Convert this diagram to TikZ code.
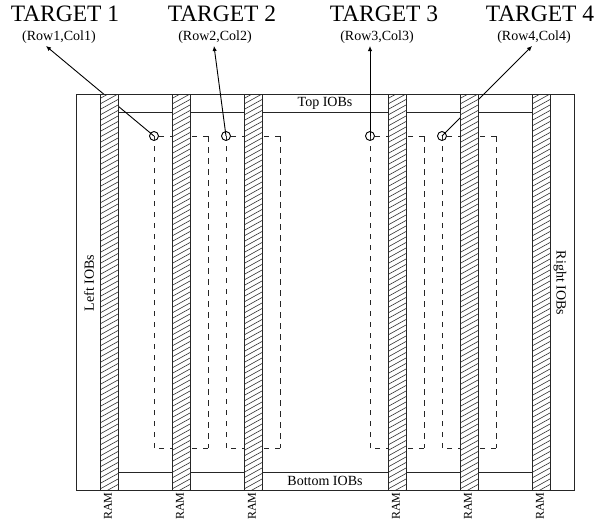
\documentclass[tikz,border=0pt]{standalone}
\usepackage{fontspec}
\setmainfont{Liberation Serif}
\usetikzlibrary{arrows.meta}
\tikzset{
  x=1pt,y=-1pt,
  frame/.style={draw=black!85,line width=1pt},
  rail/.style={frame},
  path/.style={draw=black!85,line width=0.9pt,dash pattern=on 5.5pt off 5.5pt},
  probe/.style={circle,draw=black,line width=0.9pt,minimum size=9pt,inner sep=0pt},
  pointer/.style={draw=black,line width=0.9pt,-{Latex[length=5pt,width=4.5pt]}},
  big/.style={font=\fontsize{23.5}{25}\selectfont,inner sep=0pt},
  small/.style={font=\fontsize{14}{16}\selectfont,inner sep=0pt},
  tiny/.style={font=\fontsize{12}{14}\selectfont,inner sep=0pt,rotate=90},
}
\newcommand{\ramcol}[2]{%
  \begin{scope}
    \fill[white] (#1,94) rectangle (#1+18,490);
    \clip (#1,94) rectangle (#1+18,490);
    \foreach \k in {-3,...,76}{
      \draw[line width=0.6pt,black!80] (#1,94+\k*5.5+10) -- (#1+18,94+\k*5.5);
    }
  \end{scope}
  \node[draw=black!85,line width=1pt,minimum width=18pt,minimum height=396pt,inner sep=0pt,anchor=north west] (#2) at (#1,94) {};
}
\newcommand{\loopbox}[4]{%
  \draw[path] (#2) -- (#1.center);
  \draw[path] (#2) -- (#3);
  \draw[path] (#3) -- (#4);
  \draw[path] (#4) -- (#1.center);
}
\begin{document}
\begin{tikzpicture}
\useasboundingbox (0,0) rectangle (598,523);
\node[frame,minimum width=498pt,minimum height=396pt,inner sep=0pt,anchor=north west] (chip) at (76,94) {};
\coordinate (tl) at (118,112);\coordinate (tr) at (532,112);
\coordinate (bl) at (118,472);\coordinate (br) at (532,472);
\draw[rail] (tl) -- (tr);
\draw[rail] (bl) -- (br);
% targets
\node[probe] (c1) at (154,136) {};
\node[probe] (c2) at (226,136) {};
\node[probe] (c3) at (370,136) {};
\node[probe] (c4) at (442,136) {};
\coordinate (d1a) at (208,136);\coordinate (d1b) at (208,448);\coordinate (d1c) at (154,448);
\coordinate (d2a) at (280,136);\coordinate (d2b) at (280,448);\coordinate (d2c) at (226,448);
\coordinate (d3a) at (424,136);\coordinate (d3b) at (424,448);\coordinate (d3c) at (370,448);
\coordinate (d4a) at (496,136);\coordinate (d4b) at (496,448);\coordinate (d4c) at (442,448);
\loopbox{c1}{d1a}{d1b}{d1c}
\loopbox{c2}{d2a}{d2b}{d2c}
\loopbox{c3}{d3a}{d3b}{d3c}
\loopbox{c4}{d4a}{d4b}{d4c}
\node[big] (t1) at (65,14) {TARGET 1};
\node[big] (t2) at (222,14) {TARGET 2};
\node[big] (t3) at (384,14) {TARGET 3};
\node[big] (t4) at (540,14) {TARGET 4};
\node[small] (s1) at (59,37) {(Row1,Col1)};
\node[small] (s2) at (215,37) {(Row2,Col2)};
\node[small] (s3) at (377,37) {(Row3,Col3)};
\node[small] (s4) at (534,37) {(Row4,Col4)};
\coordinate (p1) at (46,46);\coordinate (p2) at (214,46);\coordinate (p3) at (370,46);\coordinate (p4) at (532,46);
\draw[pointer] (c1.center) -- (p1);
\draw[pointer] (c2.center) -- (p2);
\draw[pointer] (c3.center) -- (p3);
\draw[pointer] (c4.center) -- (p4);
\ramcol{100}{r1}
\ramcol{172}{r2}
\ramcol{244}{r3}
\ramcol{388}{r4}
\ramcol{460}{r5}
\ramcol{532}{r6}
\node[small] (top) at (325,103) {Top IOBs};
\node[small] (bot) at (325,481) {Bottom IOBs};
\node[small,rotate=90] (left) at (89,283) {Left IOBs};
\node[small,rotate=-90] (right) at (560,283) {Right IOBs};
\foreach \r/\x in {r1/108,r2/180,r3/252,r4/396,r5/468,r6/540}{
  \node[tiny] (l\r) at (\x,506) {RAM};
}
\end{tikzpicture}
\end{document}
